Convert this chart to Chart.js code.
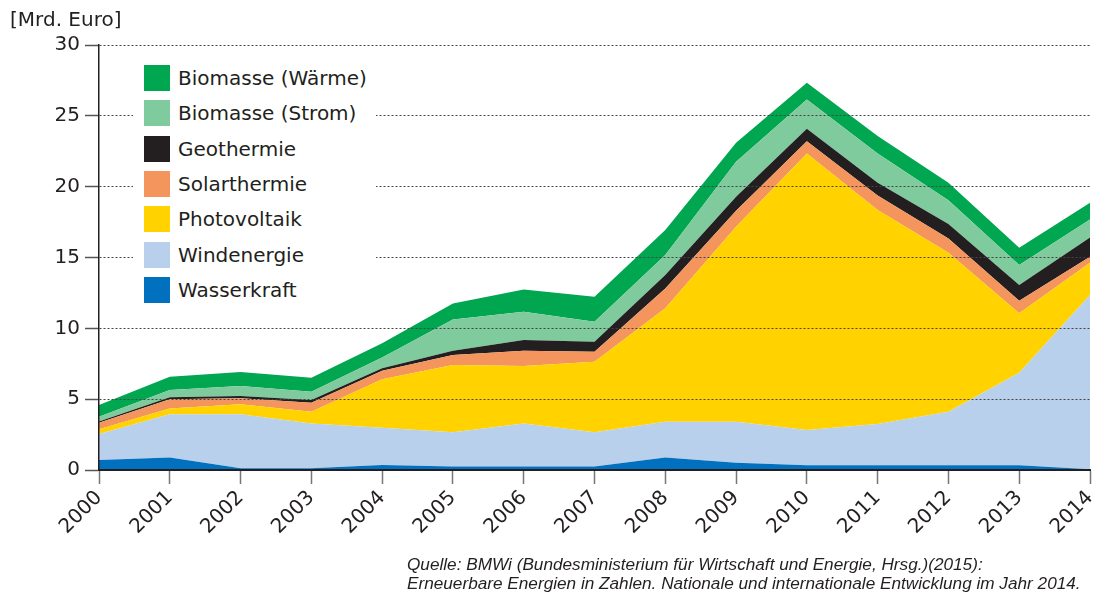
<!DOCTYPE html>
<html>
<head>
<meta charset="utf-8">
<script src="https://cdn.jsdelivr.net/npm/chart.js@4.4.0/dist/chart.umd.min.js"></script>
<style>
    body { margin: 0; background: #fff; }
    #wrap { position: relative; width: 1102px; height: 594px; font-family: "DejaVu Sans", sans-serif; color: #231f20; }
    #chart { position: absolute; left: 0; top: 0; }
    #unit { position: absolute; left: 10px; top: 7px; font-size: 20px; }
    #legend { position: absolute; left: 133px; top: 56px; width: 243px; height: 250px; background: #fff; }
    .item { position: absolute; left: 11px; height: 26px; }
    .sw { position: absolute; left: 0; top: 0; width: 26px; height: 26px; }
    .lab { position: absolute; left: 34px; top: 0; line-height: 26px; font-size: 20px; white-space: nowrap; }
    #source { position: absolute; left: 407px; top: 555px; font-family: "Liberation Sans", Arial, sans-serif; font-style: italic; font-size: 17.2px; line-height: 19px; white-space: nowrap; }
</style>
</head>
<body>
<div id="wrap">
    <canvas id="chart" width="1102" height="594"></canvas>
    <div id="unit">[Mrd. Euro]</div>
    <div id="legend"></div>
    <div id="source">Quelle: BMWi (Bundesministerium für Wirtschaft und Energie, Hrsg.)(2015):<br>Erneuerbare Energien in Zahlen. Nationale und internationale Entwicklung im Jahr 2014.</div>
</div>
<script>
// Jahre
const years = ['2000', '2001', '2002', '2003', '2004', '2005', '2006', '2007', '2008', '2009', '2010', '2011', '2012', '2013', '2014'];

// Werte je Sparte in Mrd. Euro (gestapelt, von unten nach oben)
const wasserkraft   = [0.71, 0.89, 0.12, 0.12, 0.35, 0.24, 0.24, 0.24, 0.89, 0.52, 0.33, 0.33, 0.33, 0.33, 0.05];
const windenergie   = [1.83, 3.04, 3.81, 3.17, 2.64, 2.42, 3.05, 2.42, 2.52, 2.89, 2.49, 2.92, 3.79, 6.54, 12.30];
const photovoltaik  = [0.33, 0.42, 0.71, 0.83, 3.41, 4.75, 4.05, 4.99, 8.00, 13.76, 19.53, 15.10, 11.22, 4.19, 2.28];
const solarthermie  = [0.47, 0.64, 0.42, 0.63, 0.61, 0.71, 1.08, 0.70, 1.41, 1.13, 0.85, 1.03, 1.01, 0.89, 0.43];
const geothermie    = [0.09, 0.14, 0.16, 0.19, 0.17, 0.30, 0.75, 0.71, 0.94, 0.99, 0.88, 0.90, 1.01, 1.11, 1.36];
const biomasseStrom = [0.33, 0.52, 0.71, 0.59, 0.77, 2.21, 2.00, 1.41, 1.41, 2.47, 2.08, 2.07, 1.69, 1.41, 1.27];
const biomasseWaerme = [0.83, 0.94, 0.99, 0.99, 0.99, 1.13, 1.58, 1.76, 1.77, 1.34, 1.17, 1.22, 1.23, 1.22, 1.17];

const yTicks = [0, 5, 10, 15, 20, 25, 30];

const series = [
    { label: 'Wasserkraft', data: wasserkraft, color: '#0070bf' },
    { label: 'Windenergie', data: windenergie, color: '#b9d0ec' },
    { label: 'Photovoltaik', data: photovoltaik, color: '#ffd200' },
    { label: 'Solarthermie', data: solarthermie, color: '#f3955c' },
    { label: 'Geothermie', data: geothermie, color: '#231f20' },
    { label: 'Biomasse (Strom)', data: biomasseStrom, color: '#80cb9d' },
    { label: 'Biomasse (Wärme)', data: biomasseWaerme, color: '#00a650' }
];

const FONT = '"DejaVu Sans", sans-serif';

// Legende (oben Wärme, unten Wasserkraft)
const legend = document.getElementById('legend');
series.slice().reverse().forEach((s, i) => {
    const item = document.createElement('div');
    item.className = 'item';
    item.style.top = (9 + i * 35.3) + 'px';
    item.innerHTML = `<div class="sw" style="background:${s.color}"></div><div class="lab">${s.label}</div>`;
    legend.appendChild(item);
});

new Chart(document.getElementById('chart'), {
    type: 'line',
    data: {
        labels: years,
        datasets: series.map((s, i) => ({
            label: s.label,
            data: s.data,
            backgroundColor: s.color,
            borderWidth: 0,
            pointRadius: 0,
            tension: 0,
            fill: i === 0 ? 'origin' : '-1'
        }))
    },
    options: {
        responsive: false,
        animation: false,
        layout: { padding: { top: 45, right: 12, left: 0, bottom: 0 } },
        plugins: { legend: { display: false }, tooltip: { enabled: false } },
        scales: {
            x: {
                offset: false,
                afterFit: (scale) => { scale.height = 124; scale.paddingRight = 0; scale.paddingLeft = 0; },
                border: { display: true, color: '#231f20', width: 2, z: 1 },
                grid: { drawOnChartArea: false, drawTicks: true, tickLength: 14, tickColor: '#777', tickWidth: 1.5 },
                ticks: { autoSkip: false, maxRotation: 45, minRotation: 45, padding: 2, color: '#231f20', font: { family: FONT, size: 20 } }
            },
            y: {
                stacked: true,
                min: 0, max: 30,
                afterFit: (scale) => { scale.width = 99; scale.paddingTop = 0; scale.paddingBottom = 0; },
                afterBuildTicks: (scale) => { scale.ticks = yTicks.map(v => ({ value: v })); },
                border: { display: true, color: '#231f20', width: 1.5, dash: [2, 2], z: 1 },
                grid: {
                    z: 1,
                    color: (c) => c.tick && c.tick.value === 0 ? 'rgba(0,0,0,0)' : '#444',
                    lineWidth: 1,
                    tickLength: 14, tickColor: '#555', tickWidth: 1.5, tickBorderDash: []
                },
                ticks: { padding: 5, color: '#231f20', font: { family: FONT, size: 20 } }
            }
        }
    }
});
</script>
</body>
</html>
